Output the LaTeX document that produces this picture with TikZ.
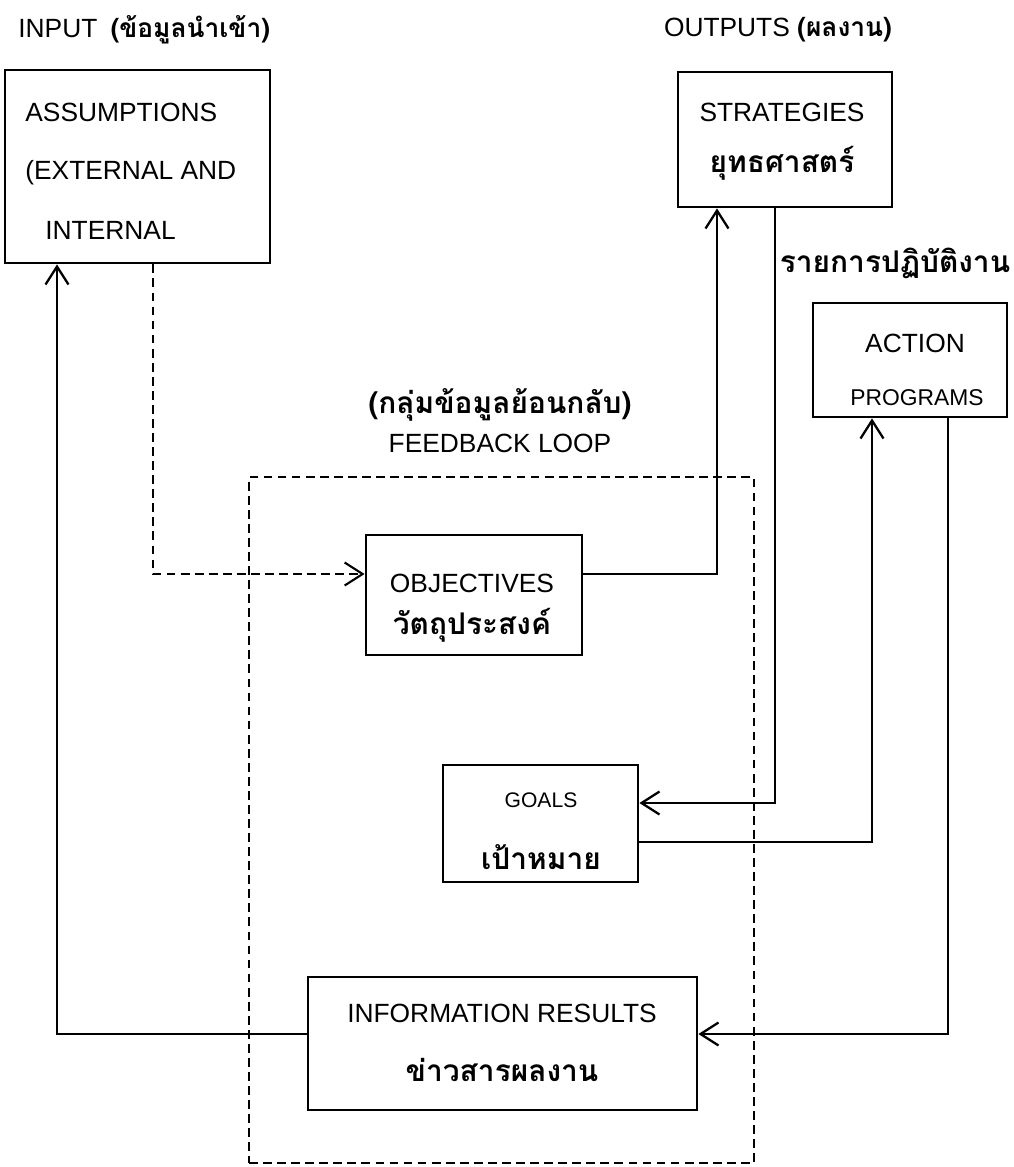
\documentclass[tikz,border=0pt]{standalone}
\usepackage{fontspec}
\setmainfont{Liberation Sans}
\newfontfamily\thaifont[Script=Thai]{Loma}
\newcommand{\thaitext}[1]{{\thaifont\bfseries #1}}
\usetikzlibrary{arrows.meta,fit}

\tikzset{
  box/.style={draw, line width=1.6pt, inner sep=0pt},
  txt/.style={font=\fontsize{15}{18}\selectfont, inner sep=0pt},
  thai/.style={font=\thaifont\bfseries\fontsize{17}{20}\selectfont, inner sep=0pt},
  flow/.style={line width=1.3pt, -{Straight Barb[length=0.36cm,width=0.46cm]}},
  fb/.style={line width=1.2pt, dash pattern=on 5pt off 3pt},
}

\begin{document}
\begin{tikzpicture}[x=0.02cm, y=-0.02cm]
\useasboundingbox (0,0) rectangle (1014,1167);

% inputs
\node[txt, anchor=west] (inlbl) at (18,30) {INPUT\enspace\thaitext{(ข้อมูลนำเข้า)}};
\node[box, fit={(5,70) (270,263)}] (assum) {};
\node[txt, anchor=west] (assum1) at (25,112) {ASSUMPTIONS};
\node[txt, anchor=west] (assum2) at (25,173) {(EXTERNAL AND};
\node[txt, anchor=west] (assum3) at (45,230) {INTERNAL};

% outputs
\node[txt] (outlbl) at (778,30) {OUTPUTS \thaitext{(ผลงาน)}};
\node[box, fit={(678,72) (892,207)}] (strat) {};
\node[txt] (strat1) at (782,112) {STRATEGIES};
\node[thai] (strat2) at (782,163) {ยุทธศาสตร์};

\node[thai] (actlbl) at (895,263) {รายการปฏิบัติงาน};
\node[box, fit={(813,303) (1007,417)}] (action) {};
\node[txt] (action1) at (915,343) {ACTION};
\node[txt, font=\fontsize{13}{16}\selectfont] (action2) at (917,398) {PROGRAMS};

% feedback loop
\node[thai] (fblbl1) at (500,405) {(กลุ่มข้อมูลย้อนกลับ)};
\node[txt] (fblbl2) at (500,443) {FEEDBACK LOOP};
\node[fb, draw, inner sep=0pt, fit={(249,477) (754,1163)}] (loop) {};

\node[box, fit={(366,535) (582,655)}] (obj) {};
\node[txt] (obj1) at (472,583) {OBJECTIVES};
\node[thai] (obj2) at (472,625) {วัตถุประสงค์};

\node[box, fit={(443,765) (638,882)}] (goals) {};
\node[txt, font=\fontsize{12}{14}\selectfont] (goals1) at (541,800) {GOALS};
\node[thai] (goals2) at (541,857) {เป้าหมาย};

\node[box, fit={(308,977) (697,1110)}] (info) {};
\node[txt] (info1) at (502,1013) {INFORMATION RESULTS};
\node[thai] (info2) at (502,1070) {ข่าวสารผลงาน};

% connectors
\coordinate (dcorner) at (153,574);
\coordinate (ocorner) at (717,574);
\coordinate (scorner) at (775,803);
\coordinate (gcorner) at (872,842);
\coordinate (acorner) at (948,1034);
\coordinate (icorner) at (57,1034);

\draw[fb, -{Straight Barb[length=0.36cm,width=0.46cm]}] (assum.south -| dcorner) -- (dcorner) -- (obj.west |- dcorner);
\draw[flow] (obj.east |- ocorner) -- (ocorner) -- (strat.south -| ocorner);
\draw[flow] (strat.south -| scorner) -- (scorner) -- (goals.east |- scorner);
\draw[flow] (goals.east |- gcorner) -- (gcorner) -- (action.south -| gcorner);
\draw[flow] (action.south -| acorner) -- (acorner) -- (info.east |- acorner);
\draw[flow] (info.west |- icorner) -- (icorner) -- (assum.south -| icorner);
\end{tikzpicture}
\end{document}
